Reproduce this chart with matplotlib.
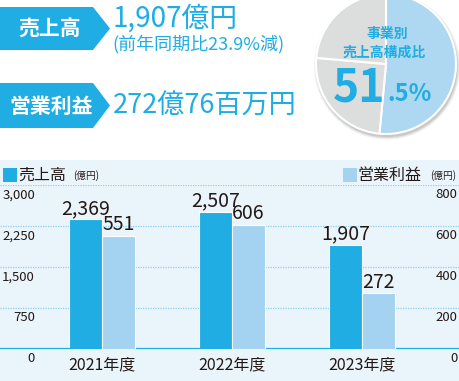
import matplotlib
matplotlib.use('Agg')
import matplotlib.pyplot as plt
from matplotlib.patches import Polygon, Rectangle, Circle

plt.rcParams['font.family'] = ['Noto Sans CJK JP', 'DejaVu Sans']

# データ
years = ['2021年度', '2022年度', '2023年度']
sales = [2369, 2507, 1907]          # 売上高（億円）
profit = [551, 606, 272]            # 営業利益（億円）
sales_ticks = [0, 750, 1500, 2250, 3000]
profit_ticks = [0, 200, 400, 600, 800]
share_values = [51.5, 24.9, 23.6]   # 事業別売上高構成比

W, H = 460, 381
CYAN = '#1FADE3'
LIGHT = '#A3D3F0'
DARK = '#231815'

fig = plt.figure(figsize=(W / 100, H / 100), dpi=100)

def px(x, y):
    '''ピクセル座標 -> figure座標'''
    return x / W, 1 - y / H

# 背景（ピクセル座標）
bg = fig.add_axes([0, 0, 1, 1])
bg.set_xlim(0, W)
bg.set_ylim(H, 0)
bg.axis('off')
bg.add_patch(Rectangle((0, 160), W, H - 160, color='#EAF4FB', lw=0))
for top, bot in [(7, 50), (83, 128)]:
    mid = (top + bot) / 2
    bg.add_patch(Polygon([(0, top), (93, top), (110, mid), (93, bot), (0, bot)],
                         closed=True, color=CYAN, lw=0))
# 凡例の四角
bg.add_patch(Rectangle((3, 168), 14, 14, color=CYAN, lw=0))
bg.add_patch(Rectangle((343, 168), 14, 14, color=LIGHT, lw=0))

# 上部テキスト
fig.text(*px(50, 29), '売上高', color='white', fontsize=15, fontweight='bold',
         ha='center', va='center')
fig.text(*px(51, 106), '営業利益', color='white', fontsize=15, fontweight='bold',
         ha='center', va='center')
fig.text(*px(113, 19), '1,907億円', color=CYAN, fontsize=20,
         ha='left', va='center')
fig.text(*px(112, 44), '(前年同期比23.9%減)', color=CYAN, fontsize=13,
         ha='left', va='center')
fig.text(*px(113, 106), '272億76百万円', color=CYAN, fontsize=19.5,
         ha='left', va='center')

# 円グラフ
pie_ax = fig.add_axes([(386 - 77) / W, 1 - (64 + 77) / H, 154 / W, 154 / H])
# 影
for k, a in enumerate([0.06, 0.08, 0.10, 0.12]):
    pie_ax.add_patch(Circle((0.015, -0.035), 1.045 - k * 0.012,
                            color='#555555', alpha=a, lw=0, zorder=0))
pie_ax.pie(share_values, colors=['#AED8F2', '#DCDDDD', '#DCDDDD'],
           startangle=90, counterclock=False,
           wedgeprops=dict(edgecolor='white', linewidth=1.5, zorder=2))
pie_ax.set_xlim(-1.1, 1.1)
pie_ax.set_ylim(-1.1, 1.1)

fig.text(*px(387, 34), '事業別', color=CYAN, fontsize=10, fontweight='bold',
         ha='center', va='center')
fig.text(*px(384, 53), '売上高構成比', color=CYAN, fontsize=10, fontweight='bold',
         ha='center', va='center')
fig.text(*px(333, 101), '51', color=CYAN, fontsize=32, fontweight='bold',
         ha='left', va='baseline')
fig.text(*px(387, 101), '.5%', color=CYAN, fontsize=17, fontweight='bold',
         ha='left', va='baseline')

# 棒グラフ
ax = fig.add_axes([0, (H - 349) / H, 1, 164 / H])
ax.set_facecolor('none')
ax2 = ax.twinx()
x = list(range(len(years)))
bw = 0.254
ax.bar([i - bw / 2 for i in x], sales, width=bw, color=CYAN,
       edgecolor='white', linewidth=0.8, zorder=3)
ax2.bar([i + bw / 2 for i in x], profit, width=bw, color=LIGHT,
        edgecolor='white', linewidth=0.8, zorder=3)
ax.set_xlim(-0.785, 2.754)
ax2.set_xlim(-0.785, 2.754)
ax.set_ylim(0, 3000)
ax2.set_ylim(0, 800)

for t in sales_ticks[1:]:
    ax.axhline(t, color='#8ECFEF', lw=0.9, ls=(0, (1, 1)), zorder=1)
ax.axhline(0, color=CYAN, lw=1.6, zorder=4)

for s in list(ax.spines.values()) + list(ax2.spines.values()):
    s.set_visible(False)
ax.set_yticks([])
ax2.set_yticks([])
ax.set_xticks(x)
ax.set_xticklabels(years, fontsize=11.5, color=DARK)
ax.tick_params(axis='x', length=0, pad=5)

# 目盛りラベル（線の少し下に表示）
for t in sales_ticks:
    ax.annotate(f'{t:,}', (0, t), xytext=(35 / 1.389, -10 / 1.389),
                textcoords='offset points', xycoords=('axes fraction', 'data'),
                ha='right', va='center', fontsize=9.5, color=DARK)
for t in profit_ticks:
    ax2.annotate(f'{t:,}', (1, t), xytext=(-2, -10 / 1.389),
                 textcoords='offset points', xycoords=('axes fraction', 'data'),
                 ha='right', va='center', fontsize=9.5, color=DARK)

# データラベル
for i in x:
    ax.annotate(f'{sales[i]:,}', (i - bw / 2, sales[i]), xytext=(0, 4),
                textcoords='offset points', ha='center', va='baseline',
                fontsize=14, color=DARK, zorder=5)
    ax2.annotate(f'{profit[i]:,}', (i + bw / 2, profit[i]), xytext=(0, 4),
                 textcoords='offset points', ha='center', va='baseline',
                 fontsize=14, color=DARK, zorder=5)

# 凡例テキスト
fig.text(*px(18, 175), '売上高', fontsize=11.5, color=DARK, ha='left', va='center')
fig.text(*px(73, 176), '(億円)', fontsize=7, color=DARK, ha='left', va='center')
fig.text(*px(358, 175), '営業利益', fontsize=11.5, color=DARK, ha='left', va='center')
fig.text(*px(430, 176), '(億円)', fontsize=7, color=DARK, ha='left', va='center')

fig.savefig('out.png', dpi=100)
